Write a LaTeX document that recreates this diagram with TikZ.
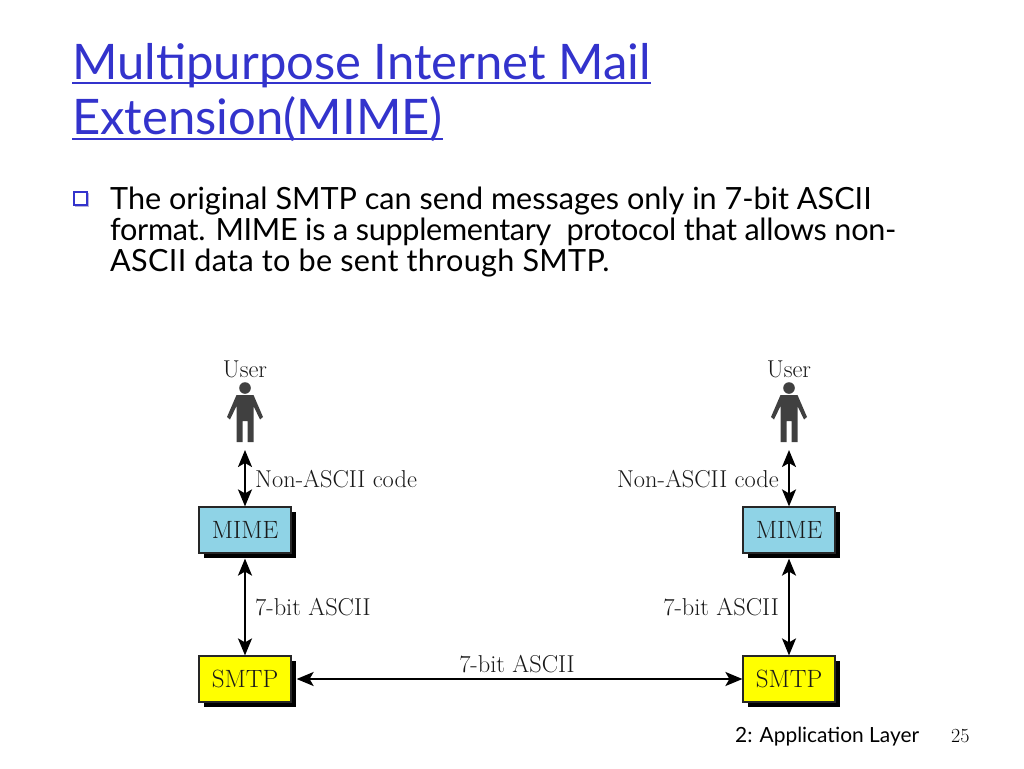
\documentclass[tikz,border=0pt]{standalone}
\usepackage{fontspec}
\usepackage{xcolor}
\newfontfamily\slidefont{Lato}
\definecolor{titleblue}{HTML}{3333CC}
\definecolor{mimeblue}{HTML}{8FD3E6}
\definecolor{figgray}{HTML}{404040}
\definecolor{smtpyellow}{RGB}{255,255,0}
\definecolor{bulletshade}{HTML}{B9B3DC}
\usetikzlibrary{arrows.meta,shadows}

\begin{document}
\begin{tikzpicture}[
    x=1pt, y=-1pt,
    titletext/.style={anchor=base west, inner sep=0, text=titleblue, font=\slidefont\fontsize{49}{49}\selectfont},
    titleline/.style={titleblue, line width=1.6pt},
    bodytext/.style={anchor=base west, inner sep=0, align=left, font=\slidefont\fontsize{30.6}{31}\selectfont},
    footertext/.style={anchor=base west, inner sep=0, font=\slidefont\fontsize{20.9}{21}\selectfont},
    figlabel/.style={inner sep=0, text=black!90, font=\fontsize{24.4}{24}\selectfont},
    protobox/.style={rectangle, draw=black!85, line width=1.2pt, minimum width=92pt, minimum height=46pt, inner sep=0,
        text=black!90, font=\fontsize{25}{25}\selectfont,
        general shadow={fill=black, shadow xshift=5pt, shadow yshift=-5pt}},
    arrow/.style={{Stealth[length=17pt,width=14pt,inset=4pt]}-{Stealth[length=17pt,width=14pt,inset=4pt]}, line width=2pt},
    person/.pic={
        \fill[figgray] (0,-25) circle (5.8);
        \fill[figgray] (-8.5,-18) -- (8.5,-18) -- (18,4) -- (15,6.5) -- (8.5,-7) -- (8.5,29) -- (2.5,29) -- (2.5,8) -- (-2.5,8) -- (-2.5,29) -- (-8.5,29) -- (-8.5,-7) -- (-15,6.5) -- (-18,4) -- cycle;
    }
]
    \useasboundingbox (0,0) rectangle (1024,768);

    % heading
    \node[titletext] (title1) at (72,79) {Multipurpose Internet Mail};
    \node[titletext] (title2) at (72,134) {Extension(MIME)};
    \draw[titleline] ([yshift=-4pt]title1.base west) -- ([yshift=-4pt]title1.base east);
    \draw[titleline] ([yshift=-5pt]title2.base west) -- ([yshift=-5pt]title2.base east);

    \node[fill=bulletshade, minimum size=14pt, inner sep=0] at (82,200) {};
    \node[draw=titleblue, fill=white, line width=2pt, minimum size=13pt, inner sep=0] (bullet) at (80,198) {};
    \node[bodytext] (body) at (110,271) {The original SMTP can send messages only in 7-bit ASCII\\
        {\addfontfeature{LetterSpace=-1}format. MIME is a supplementary\ \ protocol that allows non-}\\
        {\addfontfeature{LetterSpace=1}ASCII data to be sent through SMTP.}};

    % left side
    \node[figlabel] (userL) at (245,369) {User};
    \pic at (245,413) {person};
    \coordinate (figL) at (245,450);
    \node[protobox, fill=mimeblue] (mimeL) at (245,530) {MIME};
    \node[protobox, fill=smtpyellow] (smtpL) at (245,679) {SMTP};

    % right side
    \node[figlabel] (userR) at (789,369) {User};
    \pic at (789,413) {person};
    \coordinate (figR) at (789,450);
    \node[protobox, fill=mimeblue] (mimeR) at (789,530) {MIME};
    \node[protobox, fill=smtpyellow] (smtpR) at (789,679) {SMTP};

    \draw[arrow] (figL) -- (mimeL);
    \draw[arrow, shorten <=5pt] (mimeL) -- (smtpL);
    \draw[arrow] (figR) -- (mimeR);
    \draw[arrow, shorten <=5pt] (mimeR) -- (smtpR);
    \draw[arrow, shorten <=5pt] (smtpL) -- (smtpR);

    \node[figlabel, anchor=base west] (codeL) at (255,487) {Non-ASCII code};
    \node[figlabel, anchor=base east] (codeR) at (779,487) {Non-ASCII code};
    \node[figlabel, anchor=base west] (asciiL) at (255,615) {7-bit ASCII};
    \node[figlabel, anchor=base east] (asciiR) at (779,615) {7-bit ASCII};
    \node[figlabel, anchor=base] (asciiM) at (517,672) {7-bit ASCII};

    % footer
    \node[footertext] (footer) at (735,742) {2: Application Layer};
    \node[anchor=base west, inner sep=0, font=\fontsize{20}{20}\selectfont] (page) at (951,742) {25};
\end{tikzpicture}
\end{document}
